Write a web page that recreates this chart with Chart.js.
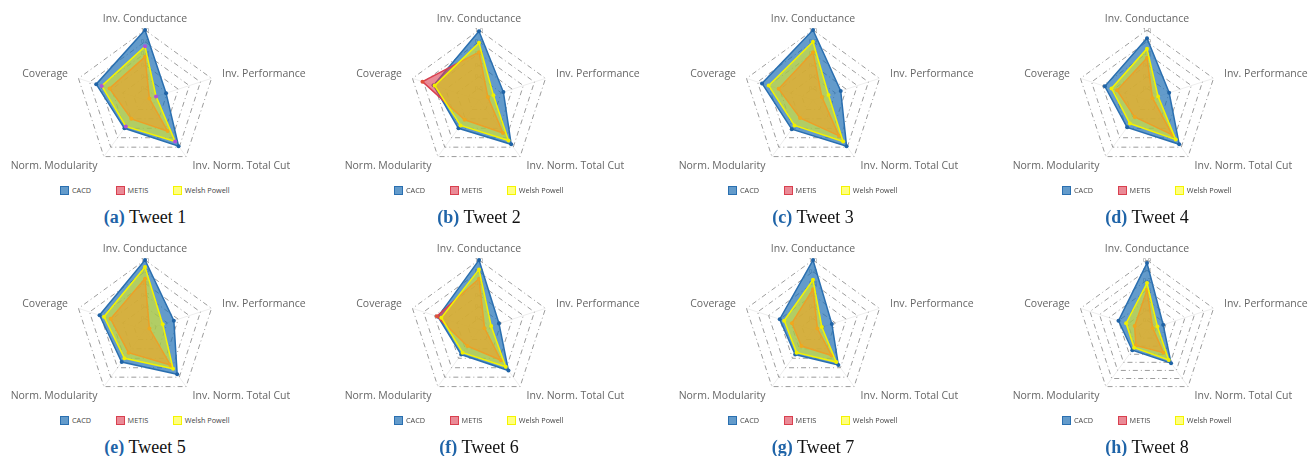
<!DOCTYPE html>
<html><head><meta charset="utf-8">
<script src="https://cdn.jsdelivr.net/npm/chart.js@4/dist/chart.umd.min.js"></script>
<style>
html,body{margin:0;padding:0;background:#fff;}
body{width:1309px;height:456px;overflow:hidden;position:relative;}
canvas.radar{position:absolute;}
.legend{position:absolute;width:300px;height:9px;display:flex;justify-content:center;align-items:center;font:7.3px "Open Sans",sans-serif;color:#444;white-space:nowrap;}
.legend .item{display:flex;align-items:center;margin:0 12.5px;}
.legend .box{width:7px;height:7px;border:1px solid;margin-right:2.5px;}
.caption{position:absolute;width:300px;height:20px;line-height:20px;font:18px "Liberation Serif","Times New Roman",serif;color:#111;text-align:center;white-space:nowrap;}
.caption b{color:#1f64a8;}
</style></head><body>
<script>
// ---- data ----
const axes = ['Inv. Conductance', 'Inv. Performance', 'Inv. Norm. Total Cut', 'Norm. Modularity', 'Coverage'];
const seriesNames = ['CACD', 'METIS', 'Welsh Powell'];
const panelLetters = ['a', 'b', 'c', 'd', 'e', 'f', 'g', 'h'];
const panelTitles = ['Tweet 1', 'Tweet 2', 'Tweet 3', 'Tweet 4', 'Tweet 5', 'Tweet 6', 'Tweet 7', 'Tweet 8'];
const scaleMin = [0.4, 0.4, 0.4, 0.4, 0.4, 0.4, 0.4, 0.2];
const scaleMax = [1, 1, 1, 1, 1, 1, 1, 0.9];
const tickStep = 0.1;
const cacd = [
  [1.00, 0.59, 0.89, 0.70, 0.84],
  [0.99, 0.62, 0.87, 0.70, 0.81],
  [1.00, 0.65, 0.89, 0.71, 0.86],
  [0.93, 0.60, 0.87, 0.69, 0.78],
  [1.00, 0.66, 0.87, 0.74, 0.81],
  [1.00, 0.58, 0.83, 0.66, 0.77],
  [1.00, 0.57, 0.77, 0.66, 0.70],
  [0.87, 0.37, 0.61, 0.45, 0.50]
];
const metis = [
  [0.77, 0.44, 0.73, 0.60, 0.72],
  [0.81, 0.48, 0.75, 0.61, 0.91],
  [0.81, 0.48, 0.78, 0.59, 0.71],
  [0.76, 0.45, 0.77, 0.58, 0.67],
  [0.84, 0.44, 0.77, 0.64, 0.71],
  [0.84, 0.45, 0.72, 0.57, 0.78],
  [0.75, 0.44, 0.67, 0.57, 0.59],
  [0.60, 0.26, 0.48, 0.39, 0.33]
];
const welshPowell = [
  [0.86, 0.50, 0.84, 0.68, 0.79],
  [0.89, 0.53, 0.83, 0.67, 0.80],
  [0.90, 0.54, 0.84, 0.67, 0.80],
  [0.84, 0.50, 0.82, 0.65, 0.72],
  [0.94, 0.56, 0.81, 0.70, 0.77],
  [0.92, 0.51, 0.79, 0.64, 0.74],
  [0.83, 0.48, 0.74, 0.64, 0.66],
  [0.67, 0.31, 0.57, 0.42, 0.42]
];

// ---- layout & style ----
const colCenters = [145, 479, 813, 1147];
const rowCenters = [100, 330];
const CW = 380, CH = 174, CX = 190, CY = 95, PADTOP = 10;
const styles = [
  {bg: 'rgba(33,113,181,0.7)', border: '#2a6fb0', point: '#1f63a6', order: 3},
  {bg: 'rgba(220,60,80,0.6)', border: '#d9404f', point: '#e0503a', order: 2},
  {bg: 'rgba(255,255,0,0.5)', border: '#f4f400', point: '#f0f000', order: 1}
];
const wpPointColors = ['#b052d8', '#f0f000', '#f0f000', '#f0f000', '#f0f000', '#f0f000', '#f0f000', '#f0f000'];
const dash = [5, 3, 1, 3];

for (let i = 0; i < 8; i++) {
  const cx = colCenters[i % 4];
  const cy = rowCenters[Math.floor(i / 4)];
  const canvas = document.createElement('canvas');
  canvas.className = 'radar';
  canvas.width = CW; canvas.height = CH;
  canvas.style.width = CW + 'px'; canvas.style.height = CH + 'px';
  canvas.style.left = (cx - CX) + 'px';
  canvas.style.top = (cy - CY) + 'px';
  document.body.appendChild(canvas);

  const values = [cacd[i], metis[i], welshPowell[i]];
  const datasets = values.map((d, k) => ({
    label: seriesNames[k],
    data: d,
    order: styles[k].order,
    backgroundColor: styles[k].bg,
    borderColor: styles[k].border,
    borderWidth: 1.5,
    pointRadius: 2,
    pointBorderWidth: 0,
    pointBackgroundColor: k === 2 ? wpPointColors[i] : styles[k].point,
    pointBorderColor: k === 2 ? wpPointColors[i] : styles[k].point,
    fill: true
  }));

  new Chart(canvas, {
    type: 'radar',
    data: {labels: axes, datasets},
    options: {
      responsive: false,
      animation: false,
      devicePixelRatio: 1,
      layout: {padding: {top: PADTOP, bottom: 0, left: 0, right: 0}},
      elements: {line: {tension: 0}},
      plugins: {legend: {display: false}, tooltip: {enabled: false}},
      scales: {
        r: {
          min: scaleMin[i],
          max: scaleMax[i],
          ticks: {stepSize: tickStep, font: {size: 6, family: 'Open Sans'}, color: '#8a8a8a', showLabelBackdrop: false, backdropPadding: 2},
          grid: {color: '#9c9c9c', lineWidth: 1, borderDash: dash},
          border: {dash: dash},
          angleLines: {color: 'rgba(0,0,0,0.07)'},
          pointLabels: {font: {size: 10.5, family: 'Open Sans', lineHeight: 0.1}, color: '#666', padding: 6}
        }
      }
    }
  });

  // HTML legend built from the datasets
  const lg = document.createElement('div');
  lg.className = 'legend';
  lg.style.left = (cx - 150) + 'px';
  lg.style.top = (cy + 90 - 4.5) + 'px';
  datasets.forEach(ds => {
    const it = document.createElement('div');
    it.className = 'item';
    const b = document.createElement('span');
    b.className = 'box';
    b.style.background = ds.backgroundColor;
    b.style.borderColor = ds.borderColor;
    const t = document.createElement('span');
    t.textContent = ds.label;
    it.appendChild(b); it.appendChild(t);
    lg.appendChild(it);
  });
  document.body.appendChild(lg);

  const cap = document.createElement('div');
  cap.className = 'caption';
  cap.style.left = (cx - 150) + 'px';
  cap.style.top = (cy + 117 - 10) + 'px';
  const bl = document.createElement('b');
  bl.textContent = '(' + panelLetters[i] + ')';
  cap.appendChild(bl);
  cap.appendChild(document.createTextNode(' ' + panelTitles[i]));
  document.body.appendChild(cap);
}
</script>
</body></html>
